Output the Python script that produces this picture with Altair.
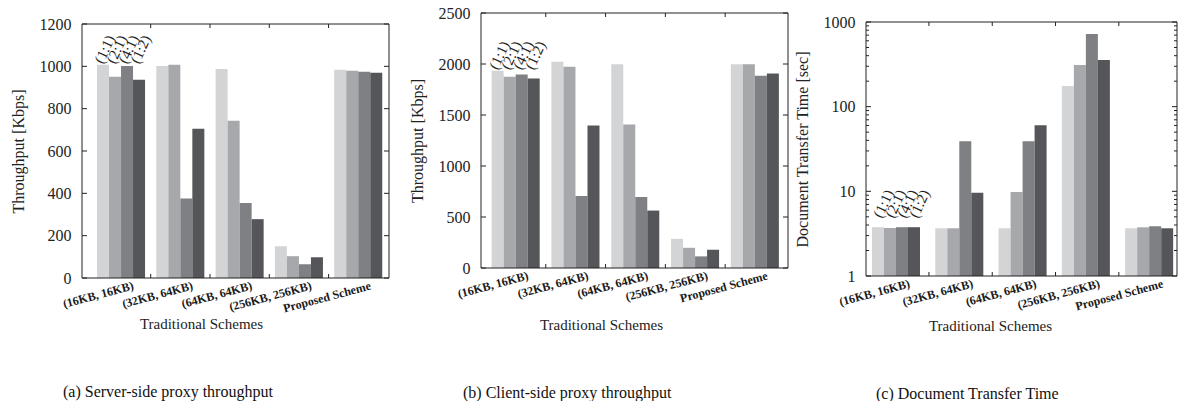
import altair as alt
import pandas as pd

groups = ["(16KB, 16KB)", "(32KB, 64KB)", "(64KB, 64KB)", "(256KB, 256KB)", "Proposed Scheme"]
ratios = ["(1:1)", "(2:1)", "(4:1)", "(1:2)"]
colors = ["#d3d4d6", "#a7a8ab", "#7f8083", "#55565a"]

# values per group, in ratio order (1:1), (2:1), (4:1), (1:2)
server_kbps = [[1008, 951, 1002, 937],
               [1002, 1008, 376, 705],
               [987, 743, 354, 278],
               [150, 103, 65, 98],
               [984, 979, 975, 970]]
client_kbps = [[1935, 1876, 1896, 1857],
               [2023, 1974, 706, 1398],
               [1997, 1408, 696, 563],
               [286, 198, 114, 179],
               [1997, 1997, 1886, 1906]]
transfer_sec = [[3.77, 3.69, 3.77, 3.77],
                [3.66, 3.66, 39.1, 9.6],
                [3.66, 9.8, 39.1, 60.5],
                [175, 310, 720, 355],
                [3.66, 3.76, 3.87, 3.66]]

server_ticks = [0, 200, 400, 600, 800, 1000, 1200]
client_ticks = [0, 500, 1000, 1500, 2000, 2500]
transfer_ticks = [1, 10, 100, 1000]
transfer_minor = [m * d for d in [1, 10, 100] for m in range(2, 10)]

FONT = "Liberation Serif"
XTITLE = "Traditional Schemes"
INK = "#222222"


def panel(values, ydomain, yticks, yminor, ytitle, caption, W, H, top_px, pin, pout, align,
          log, title_x, title_y, cap_dx, cap_offset, lab_dx):
    rows = []
    for gi, g in enumerate(groups):
        for ri, r in enumerate(ratios):
            rows.append({"group": g, "ratio": r, "value": values[gi][ri]})
    df = pd.DataFrame(rows)

    xsc = alt.Scale(domain=groups, paddingInner=pin, paddingOuter=pout, align=align)
    if log:
        ysc = alt.Scale(type="log", domain=ydomain, nice=False, range=[H, top_px])
    else:
        ysc = alt.Scale(domain=ydomain, nice=False, zero=True, range=[H, top_px])
    offsc = alt.Scale(domain=ratios, paddingInner=0, paddingOuter=0)

    xaxis = alt.Axis(labelAngle=345, labelAlign="right",
                     labelBaseline="top", labelPadding=2, labelOffset=11, bandPosition=1,
                     labelFont=FONT, labelFontSize=12, labelFontWeight="bold",
                     labelColor="#1a1a1a", ticks=False, domain=False, grid=False,
                     titleFont=FONT, titleFontSize=15, titleFontWeight="normal",
                     titleColor=INK, titleX=title_x, titleY=title_y,
                     titleAlign="center", titleBaseline="middle", labelOverlap=False)
    yaxis = alt.Axis(values=yticks, format="d", ticks=False, tickSize=0,
                     domain=False, grid=False, labelPadding=11, labelFont=FONT,
                     labelFontSize=16, labelColor=INK, titleFont=FONT,
                     titleFontSize=16, titleFontWeight="normal", titleColor=INK,
                     titlePadding=13)

    def X(field, **kw):
        return alt.X(field, scale=xsc, sort=groups, title=XTITLE, **kw)

    def Y(field, **kw):
        return alt.Y(field, scale=ysc, title=ytitle, **kw)

    bars = alt.Chart(df).mark_bar().encode(
        x=X("group:N", axis=xaxis),
        xOffset=alt.XOffset("ratio:N", scale=offsc, sort=ratios),
        y=Y("value:Q", axis=yaxis),
        y2=alt.datum(ydomain[0]),
        color=alt.Color("ratio:N", scale=alt.Scale(domain=ratios, range=colors), legend=None),
    )

    labels = alt.Chart(df).transform_filter(
        alt.datum.group == groups[0]
    ).transform_joinaggregate(top="max(value)").mark_text(
        angle=295, align="left", baseline="alphabetic", font=FONT, fontSize=15,
        color=INK, dx=lab_dx,
    ).encode(
        x=X("group:N"),
        xOffset=alt.XOffset("ratio:N", scale=offsc, sort=ratios),
        y=Y("top:Q"),
        text="ratio:N",
    )

    # frame around the data region
    fdf = pd.DataFrame({"lo": [ydomain[0]], "hi": [ydomain[1]]})
    frame_top = alt.Chart(fdf).mark_rule(color=INK).encode(
        y=Y("hi:Q"), x=alt.value(0), x2=alt.value(W))
    frame_bot = alt.Chart(fdf).mark_rule(color=INK).encode(
        y=Y("lo:Q"), x=alt.value(0), x2=alt.value(W))
    frame_l = alt.Chart(fdf).mark_rule(color=INK).encode(
        y=Y("lo:Q"), y2="hi:Q", x=alt.value(0))
    frame_r = alt.Chart(fdf).mark_rule(color=INK).encode(
        y=Y("lo:Q"), y2="hi:Q", x=alt.value(W))

    tdf = pd.DataFrame({"v": yticks})
    ytl = alt.Chart(tdf).mark_rule(color=INK).encode(
        y=Y("v:Q"), x=alt.value(0), x2=alt.value(5))
    ytr = alt.Chart(tdf).mark_rule(color=INK).encode(
        y=Y("v:Q"), x=alt.value(W - 5), x2=alt.value(W))
    layers = [bars, labels, frame_top, frame_bot, frame_l, frame_r, ytl, ytr]
    if yminor:
        mdf = pd.DataFrame({"v": yminor})
        layers.append(alt.Chart(mdf).mark_rule(color=INK).encode(
            y=Y("v:Q"), x=alt.value(0), x2=alt.value(3)))
        layers.append(alt.Chart(mdf).mark_rule(color=INK).encode(
            y=Y("v:Q"), x=alt.value(W - 3), x2=alt.value(W)))

    step = W / (len(groups) - pin + 2 * pout)
    half_gap = pin * step / 2
    gdf = pd.DataFrame({"g": groups[:4], "lo": [ydomain[0]] * 4, "hi": [ydomain[1]] * 4})
    xtb = alt.Chart(gdf).mark_rule(color=INK, xOffset=half_gap, y2Offset=-4).encode(
        x=X("g:N", bandPosition=1), y=Y("lo:Q"), y2="lo:Q")
    xtt = alt.Chart(gdf).mark_rule(color=INK, xOffset=half_gap, y2Offset=4).encode(
        x=X("g:N", bandPosition=1), y=Y("hi:Q"), y2="hi:Q")
    layers += [xtb, xtt]

    return alt.layer(*layers).properties(
        width=W, height=H,
        view=alt.ViewBackground(stroke="transparent"),
        title=alt.TitleParams(caption, orient="bottom", anchor="start", frame="group",
                              dx=cap_dx, offset=cap_offset, font=FONT, fontSize=16,
                              fontWeight="normal", color="#111111"),
    )


p1 = panel(server_kbps, [0, 1200], server_ticks, None, "Throughput [Kbps]",
           "(a) Server-side proxy throughput", 307, 265, 11, 0.19, 0.1835, 0.69, False,
           119, 45, -19, 53, 0)
p2 = panel(client_kbps, [0, 2500], client_ticks, None, "Throughput [Kbps]",
           "(b) Client-side proxy throughput", 307, 255, 0, 0.19, 0.162, 0.55, False,
           120, 56, -18, 53, 0)
p3 = panel(transfer_sec, [1, 1000], transfer_ticks, transfer_minor, "Document Transfer Time [sec]",
           "(c) Document Transfer Time", 311, 263, 9, 0.2, 0.057, 0.83, True,
           124, 49, 10, 53, 9)

left = alt.hconcat(p1, p2, spacing=18)
chart = alt.hconcat(left, p3, spacing=4).properties(
    padding={"left": 9, "top": 4, "right": 0, "bottom": 0},
    background="white",
)

chart.save("out.html", embed_options={"renderer": "svg", "actions": False})
